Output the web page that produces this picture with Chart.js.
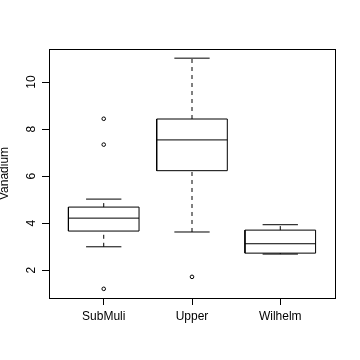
<!DOCTYPE html>
<html><head><meta charset="utf-8">
<script src="https://cdn.jsdelivr.net/npm/chart.js@4"></script>
<style>html,body{margin:0;padding:0;background:#fff}#wrap{width:360px;height:360px}</style>
</head><body><div id="wrap"><canvas id="c" width="360" height="360"></canvas></div>
<script>
const categories = ['SubMuli', 'Upper', 'Wilhelm'];
const lowerWhisker = [2.99, 3.62, 2.68];
const q1 = [3.66, 6.23, 2.72];
const median = [4.21, 7.54, 3.12];
const q3 = [4.68, 8.43, 3.70];
const upperWhisker = [5.02, 11.02, 3.93];
const outliers = [[8.44, 7.34, 1.20], [1.71], []];
const yTicks = [2, 4, 6, 8, 10];
const yTitle = 'Vanadium';

const BOX = 0.4, CAP = 0.2;
const gap = {x: null, y: null};
const boxPts = [], medPts = [], capPts = [], whiskPts = [], outPts = [];
categories.forEach((c, k) => {
  const i = k + 1;
  boxPts.push({x: i - BOX, y: q1[k]}, {x: i + BOX, y: q1[k]}, {x: i + BOX, y: q3[k]}, {x: i - BOX, y: q3[k]}, {x: i - BOX, y: q1[k]}, gap);
  medPts.push({x: i - BOX, y: median[k]}, {x: i + BOX, y: median[k]}, gap);
  capPts.push({x: i - CAP, y: upperWhisker[k]}, {x: i + CAP, y: upperWhisker[k]}, gap,
              {x: i - CAP, y: lowerWhisker[k]}, {x: i + CAP, y: lowerWhisker[k]}, gap);
  whiskPts.push({x: i, y: q3[k]}, {x: i, y: upperWhisker[k]}, gap, {x: i, y: lowerWhisker[k]}, {x: i, y: q1[k]}, gap);
  outliers[k].forEach(v => outPts.push({x: i, y: v}));
});

const lineDs = (data, extra) => Object.assign({data, showLine: true, borderColor: '#000', borderWidth: 1, pointRadius: 0, fill: false, spanGaps: false, tension: 0}, extra || {});

const frame = {
  id: 'frame',
  afterDraw(chart) {
    const {ctx, chartArea: a} = chart;
    ctx.save();
    ctx.strokeStyle = '#000';
    ctx.lineWidth = 1;
    ctx.strokeRect(Math.round(a.left) + 0.5, Math.round(a.top) + 0.5, Math.round(a.right - a.left), Math.round(a.bottom - a.top));
    ctx.restore();
  }
};

Chart.defaults.font.family = '"Liberation Sans", Arial, sans-serif';
Chart.defaults.font.size = 12;
Chart.defaults.color = '#000';

new Chart(document.getElementById('c'), {
  type: 'scatter',
  data: {datasets: [
    lineDs(boxPts),
    lineDs(medPts),
    lineDs(capPts),
    lineDs(whiskPts, {borderDash: [4, 4]}),
    {data: outPts, showLine: false, pointStyle: 'circle', pointRadius: 1.8, borderWidth: 1, borderColor: '#000', backgroundColor: 'rgba(0,0,0,0)'}
  ]},
  options: {
    responsive: false,
    animation: false,
    events: [],
    layout: {padding: {top: 49, right: 25, left: 0, bottom: 0}},
    plugins: {legend: {display: false}, tooltip: {enabled: false}},
    scales: {
      x: {
        type: 'linear', min: 0.38, max: 3.62,
        afterBuildTicks: s => { s.ticks = categories.map((c, k) => ({value: k + 1})); },
        afterFit: s => { s.height = 62; },
        ticks: {callback: v => categories[v - 1], padding: 4, maxRotation: 0, autoSkip: false},
        grid: {drawOnChartArea: false, drawTicks: true, tickLength: 7, color: '#000'},
        border: {display: true, color: '#000'}
      },
      y: {
        type: 'linear', min: 0.81, max: 11.41,
        afterBuildTicks: s => { s.ticks = yTicks.map(v => ({value: v})); },
        afterFit: s => { s.width = 49; },
        ticks: {minRotation: 90, maxRotation: 90, crossAlign: 'center', padding: 4, autoSkip: false},
        grid: {drawOnChartArea: false, drawTicks: true, tickLength: 7, color: '#000'},
        border: {display: true, color: '#000'},
        title: {display: true, text: yTitle, padding: {top: -3, bottom: 0}, font: {size: 12}}
      }
    }
  },
  plugins: [frame]
});
</script></body></html>
